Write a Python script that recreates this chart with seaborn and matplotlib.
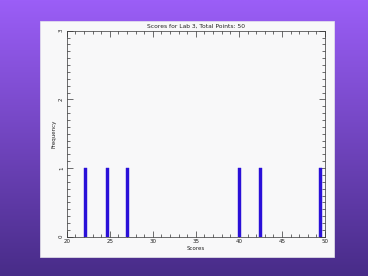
import numpy as np
import pandas as pd
import matplotlib
matplotlib.use("Agg")
import matplotlib.pyplot as plt
from matplotlib.ticker import MultipleLocator
from matplotlib.patches import Rectangle
import seaborn as sns

scores = [22.2, 24.7, 27.1, 40.1, 42.5, 49.5]
frequency = [1, 1, 1, 1, 1, 1]
title = "Scores for Lab 3, Total Points: 50"

sns.set_style("white")
plt.rcParams['font.family'] = ['DejaVu Sans']

fig = plt.figure(figsize=(3.68, 2.76), dpi=100)

# gradient background
bg = fig.add_axes([0, 0, 1, 1], zorder=-10)
top = np.array([0x9b, 0x5e, 0xf7]) / 255
bot = np.array([0x48, 0x2c, 0x88]) / 255
t = np.linspace(0, 1, 256)[:, None]
grad = top[None, :] * (1 - t) + bot[None, :] * t
bg.imshow(grad[:, None, :], aspect="auto", extent=[0, 1, 0, 1])
bg.set_axis_off()

# white panel
fig.patches.append(Rectangle((40 / 368, 1 - 257 / 276), 294 / 368, 236 / 276,
                             transform=fig.transFigure, facecolor="#f8f8f9",
                             edgecolor="#e8e8ec", lw=0.5, zorder=-5))

ax = fig.add_axes([66.7 / 368, 1 - 236.7 / 276, (325 - 66.7) / 368, (236.7 - 30.7) / 276])
ax.set_facecolor("#f8f8f9")
df = pd.DataFrame({"Scores": scores, "Frequency": frequency})
sns.barplot(data=df, x="Scores", y="Frequency", native_scale=True,
            color="#2a10d8", saturation=1, width=0.14, ax=ax, errorbar=None,
            edgecolor="#2a10d8", linewidth=0.3)

ax.set_xlim(20, 50)
ax.set_ylim(0, 3)
ax.xaxis.set_major_locator(MultipleLocator(5))
ax.xaxis.set_minor_locator(MultipleLocator(1))
ax.yaxis.set_major_locator(MultipleLocator(1))
ax.yaxis.set_minor_locator(MultipleLocator(0.1))
ax.tick_params(which="both", direction="in", top=True, right=True,
               bottom=True, left=True, color="#333333", width=0.5)
ax.tick_params(which="major", length=4, labelsize=4, pad=2, labelcolor="#222222")
ax.tick_params(which="minor", length=2)
ax.set_xticks([20, 25, 30, 35, 40, 45, 50])
ax.set_xticklabels(["20", "25", "30", "35", "40", "45", "50"])
ax.set_yticks([0, 1, 2, 3])
ax.set_yticklabels(["0", "1", "2", "3"], rotation=90, va="center")
for s in ax.spines.values():
    s.set_color("#333333")
    s.set_linewidth(0.5)
ax.set_xlabel("Scores", fontsize=4, labelpad=1, color="#222222")
ax.set_ylabel("Frequency", fontsize=4, labelpad=2, color="#222222")
ax.set_title(title, fontsize=4.3, pad=2, color="#222222")

fig.savefig("out.png", dpi=100)
